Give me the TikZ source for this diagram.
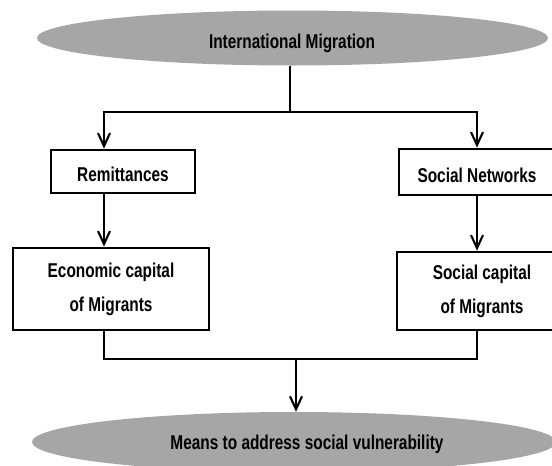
\documentclass[tikz,border=0pt]{standalone}
\usepackage{fontspec}
\newfontfamily\nar[FakeStretch=0.77]{Liberation Sans Bold}
\usetikzlibrary{shapes.geometric,arrows.meta}
\definecolor{ellgray}{RGB}{166,166,166}
\tikzset{
  ell/.style={ellipse, fill=ellgray, draw=none, inner sep=0pt},
  lbl/.style={font=\nar\fontsize{20}{34}\selectfont, inner sep=0pt},
  box/.style={draw=black, line width=2.8pt, fill=white, align=center,
              font=\nar\fontsize{20}{34}\selectfont, inner sep=0pt},
  conn/.style={line width=2.1pt, line join=miter},
  arr/.style={conn, -{Straight Barb[length=13pt,width=12pt]}}
}
\begin{document}
\begin{tikzpicture}[x=1pt,y=-1pt]
\clip (0,0) rectangle (552,466);
\fill[white] (0,0) rectangle (552,466);
% ellipses
\node[ell, minimum width=511pt, minimum height=55pt] (top) at (292.5,38) {};
\node[lbl, anchor=base] (toptxt) at (292,48) {International Migration};
\node[ell, minimum width=524pt, minimum height=60pt] (bot) at (294,442) {};
\node[lbl, anchor=base] (bottxt) at (307,449) {Means to address social vulnerability};
% boxes
\node[box, minimum width=144pt, minimum height=43pt, text height=20pt, text depth=0pt] (rem) at (123,171.5) {Remittances};
\node[box, minimum width=156pt, minimum height=46pt, text height=20pt, text depth=0pt] (sn) at (477,172) {Social Networks};
\node[box, minimum width=196pt, minimum height=82pt] (eco) at (111,289) {Economic capital\\of Migrants};
\node[box, minimum width=170pt, minimum height=78pt] (sc) at (482,291) {Social capital\\of Migrants};
% junction coordinates
\coordinate (j1) at (290,112);
\coordinate (aL) at (104,112);
\coordinate (j2) at (296,359);
\coordinate (bL) at (104,359);
\coordinate (bR) at (477,359);
% top connectors
\draw[conn] (j1 |- top.south) -- (j1);
\draw[arr] (j1) -- (aL) -- (aL |- rem.north);
\draw[arr] (j1) -| (sn.north);
% middle arrows
\draw[arr] (aL |- rem.south) -- (aL |- eco.north);
\draw[arr] (sn.south) -- (sn.south |- sc.north);
% bottom connectors
\draw[conn] (bL |- eco.south) -- (bL) -- (bR) -- (bR |- sc.south);
\draw[arr] (j2) -- (j2 |- bot.north);
\end{tikzpicture}
\end{document}
